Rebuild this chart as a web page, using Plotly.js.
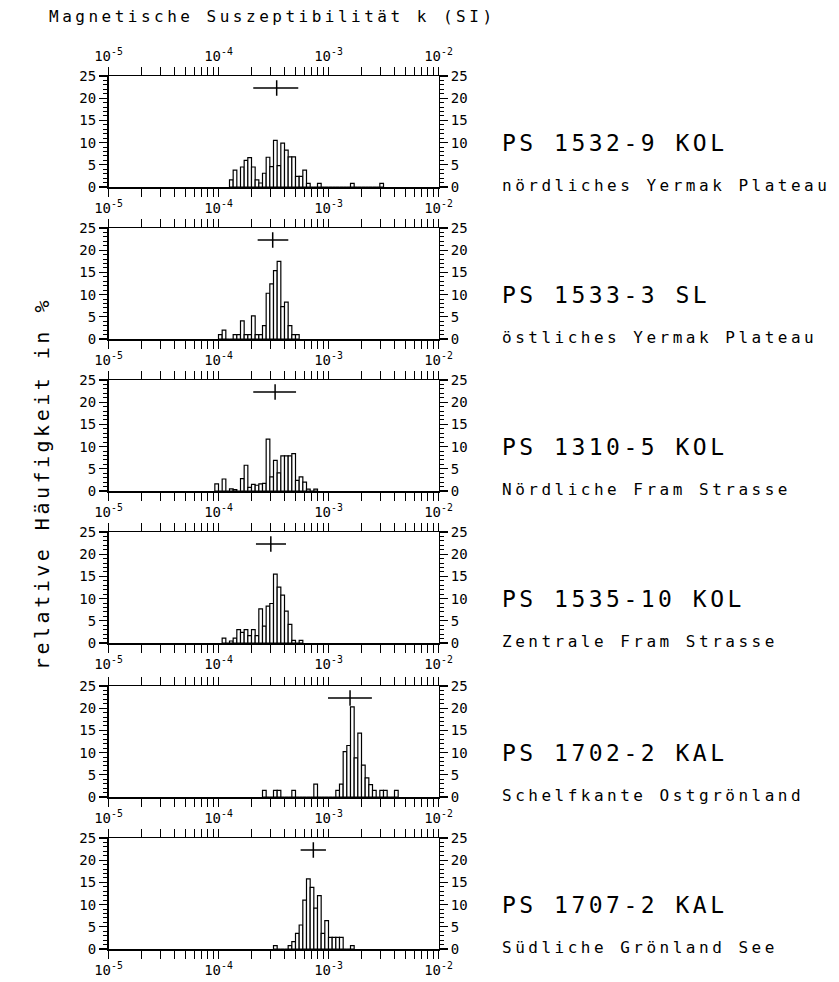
<!DOCTYPE html>
<html><head><meta charset="utf-8">
<script src="https://cdn.plot.ly/plotly-3.0.1.min.js"></script>
<style>
body{margin:0;background:#fff}
.annotation-text{letter-spacing:3.5px}
</style>
</head><body><div id="chart" style="width:839px;height:982px"></div>
<script>
// ---- data ----
const BIN_WIDTH = 1/30;              // histogram bin width in decades of k
const cores = ["PS 1532-9 KOL","PS 1533-3 SL","PS 1310-5 KOL","PS 1535-10 KOL","PS 1702-2 KAL","PS 1707-2 KAL"];
const regions = ["nördliches Yermak Plateau","östliches Yermak Plateau","Nördliche Fram Strasse","Zentrale Fram Strasse","Schelfkante Ostgrönland","Südliche Grönland See"];
// first bin lower edge, as log10(k)
const binStartLog = [-3.9, -4.0, -4.0333, -3.9667, -3.6, -3.5];
// relative frequency (%) per bin
const pct1 = [1.6,3.8,0,4.5,6.0,6.6,4.5,1.6,0.9,3.1,6.7,4.6,10.5,4.8,9.9,8.3,6.8,6.8,2.4,2.4,3.8,0.8,0,0,0.8,0,0,0,0,0,0,0,0,0.8,0,0,0,0,0,0,0,0.8];
const pct2 = [1.0,2.0,0,0,1.0,1.0,4.1,1.0,1.0,5.2,1.0,1.0,3.0,10.3,12.4,15.4,17.5,7.3,8.3,3.0,1.0,1.0];
const pct3 = [1.6,0,2.7,0,0.5,0.3,0,2.8,5.8,0.8,1.5,1.3,1.6,1.7,11.7,3.2,6.9,4.1,7.9,7.9,7.9,8.4,2.4,3.2,2.0,0.4,0,0.4];
const pct4 = [1.1,0,0.45,1.1,3.0,2.4,3.0,1.65,3.0,1.65,7.7,3.8,8.3,8.9,15.5,12.6,10.8,7.2,4.2,0.6,0,0.6];
const pct5 = [1.5,0,0,1.5,1.5,0,0,0,1.5,0,0,0,0,0,2.9,0,0,0,0,0,1.5,2.9,10.2,11.6,20.3,8.8,14.4,7.2,4.3,2.8,1.5,0,1.5,1.5,0,0,1.5];
const pct6 = [0.75,0,0,0,0.75,1.65,3.5,5.4,11.0,15.8,13.9,9.2,12.0,3.5,6.4,2.6,2.6,2.6,2.6,0,0,0.75];
const pcts = [pct1,pct2,pct3,pct4,pct5,pct6];
// mean and spread of k (SI)
const kMean = [3.38e-4, 3.11e-4, 3.27e-4, 2.99e-4, 1.57e-3, 7.28e-4];
const kLow  = [2.07e-4, 2.27e-4, 2.07e-4, 2.19e-4, 9.9e-4, 5.58e-4];
const kHigh = [5.31e-4, 4.31e-4, 5.07e-4, 4.11e-4, 2.48e-3, 9.48e-4];
const statY = 22.3;
const decadeVals = [-5,-4,-3,-2];
const decadeText = ["10<sup>-5</sup>","10<sup>-4</sup>","10<sup>-3</sup>","10<sup>-2</sup>"];
const yTicks = [0,5,10,15,20,25];

// ---- layout ----
const W = 839, H = 982;
const bottoms = [187,339,491,643,797,949];
const PH = 111;
const FONT = "DejaVu Sans Mono";
const minorVals = [];
for (let e=-5; e<-2; e++) for (let d=2; d<=9; d++) minorVals.push(e+Math.log10(d));

const layout = {
  width: W, height: H, margin:{l:0,r:0,t:0,b:0}, showlegend:false,
  paper_bgcolor:'#fff', plot_bgcolor:'#fff', bargap:0,
  font:{family:FONT, color:'#000', size:13},
  annotations:[]
};
const traces = [];
const xDom = [108.5/W, 438.5/W];

function xAxisBase(){
  return {domain:xDom, range:[-5,-2], autorange:false, tickmode:'array', tickvals:decadeVals, ticktext:decadeText,
    ticks:'outside', ticklen:8, tickwidth:1.2, tickcolor:'#000', showline:true, linewidth:1.5, linecolor:'#000',
    showgrid:false, zeroline:false, fixedrange:true,
    minor:{tickmode:'array', tickvals:minorVals, ticks:'outside', ticklen:4, tickwidth:1, tickcolor:'#000'},
    tickfont:{family:FONT, size:14, color:'#000'}};
}
function yAxisBase(){
  return {range:[0,25], autorange:false, tickmode:'array', tickvals:yTicks, ticks:'outside', ticklen:8, tickwidth:1.2, tickcolor:'#000',
    showline:true, linewidth:1.5, linecolor:'#000', showgrid:false, zeroline:false, fixedrange:true,
    minor:{tick0:0, dtick:1, ticks:'outside', ticklen:4, tickwidth:1, tickcolor:'#000'},
    tickfont:{family:FONT, size:14, color:'#000'}};
}
function ghost(xa, ya){
  return {type:'scatter', mode:'markers', x:[-3.5], y:[12], xaxis:xa, yaxis:ya,
    marker:{opacity:0, size:1}, hoverinfo:'skip', showlegend:false};
}

for (let i=0;i<6;i++){
  const k = i+1, s = (k===1?'':String(k));
  const yb = bottoms[i], yt = yb-PH;
  const xa = xAxisBase(); xa.anchor = 'y'+s; xa.mirror = 'allticks';
  layout['xaxis'+s] = xa;
  const ya = yAxisBase(); ya.anchor = 'x'+s; ya.domain = [1-yb/H, 1-yt/H];
  layout['yaxis'+s] = ya;
  const yr = yAxisBase(); yr.anchor = 'x'+s; yr.overlaying = 'y'+s; yr.side = 'right';
  layout['yaxis'+(k+6)] = yr;

  const centers = pcts[i].map((_,j)=> binStartLog[i] + (j+0.5)*BIN_WIDTH);
  traces.push({type:'bar', x:centers, y:pcts[i], width:BIN_WIDTH, xaxis:'x'+s, yaxis:'y'+s,
    marker:{color:'#fff', line:{color:'#000', width:1.2}}, hoverinfo:'skip'});
  const m = Math.log10(kMean[i]);
  traces.push({type:'scatter', mode:'markers', x:[m], y:[statY], xaxis:'x'+s, yaxis:'y'+s,
    marker:{symbol:'line-ns', size:11, color:'#000', line:{color:'#000', width:1.5}},
    error_x:{type:'data', symmetric:false, array:[Math.log10(kHigh[i])-m], arrayminus:[m-Math.log10(kLow[i])],
      width:0, thickness:1.5, color:'#000'}, hoverinfo:'skip'});
  traces.push(ghost('x'+s, 'y'+(k+6)));

  layout.annotations.push({xref:'paper', yref:'paper', x:500/W, y:1-(yb-44)/H, xanchor:'left', yanchor:'middle',
    text:cores[i], showarrow:false, font:{family:FONT, size:23, color:'#000'}});
  layout.annotations.push({xref:'paper', yref:'paper', x:500/W, y:1-(yb-2)/H, xanchor:'left', yanchor:'middle',
    text:regions[i], showarrow:false, font:{family:FONT, size:16, color:'#000'}});
}
// top labelled axis for first panel
const xt = xAxisBase(); xt.overlaying='x'; xt.side='top'; xt.anchor='y';
layout.xaxis7 = xt;
traces.push(ghost('x7','y'));

layout.annotations.push({xref:'paper', yref:'paper', x:47/W, y:1-16/H, xanchor:'left', yanchor:'middle',
  text:'Magnetische Suszeptibilität k (SI)', showarrow:false, font:{family:FONT, size:16, color:'#000'}});
layout.annotations.push({xref:'paper', yref:'paper', x:42/W, y:1-484/H, xanchor:'center', yanchor:'middle', textangle:-90,
  text:'relative Häufigkeit in %', showarrow:false, font:{family:FONT, size:20, color:'#000'}});

Plotly.newPlot('chart', traces, layout, {staticPlot:true, displayModeBar:false});
</script>
</body></html>
